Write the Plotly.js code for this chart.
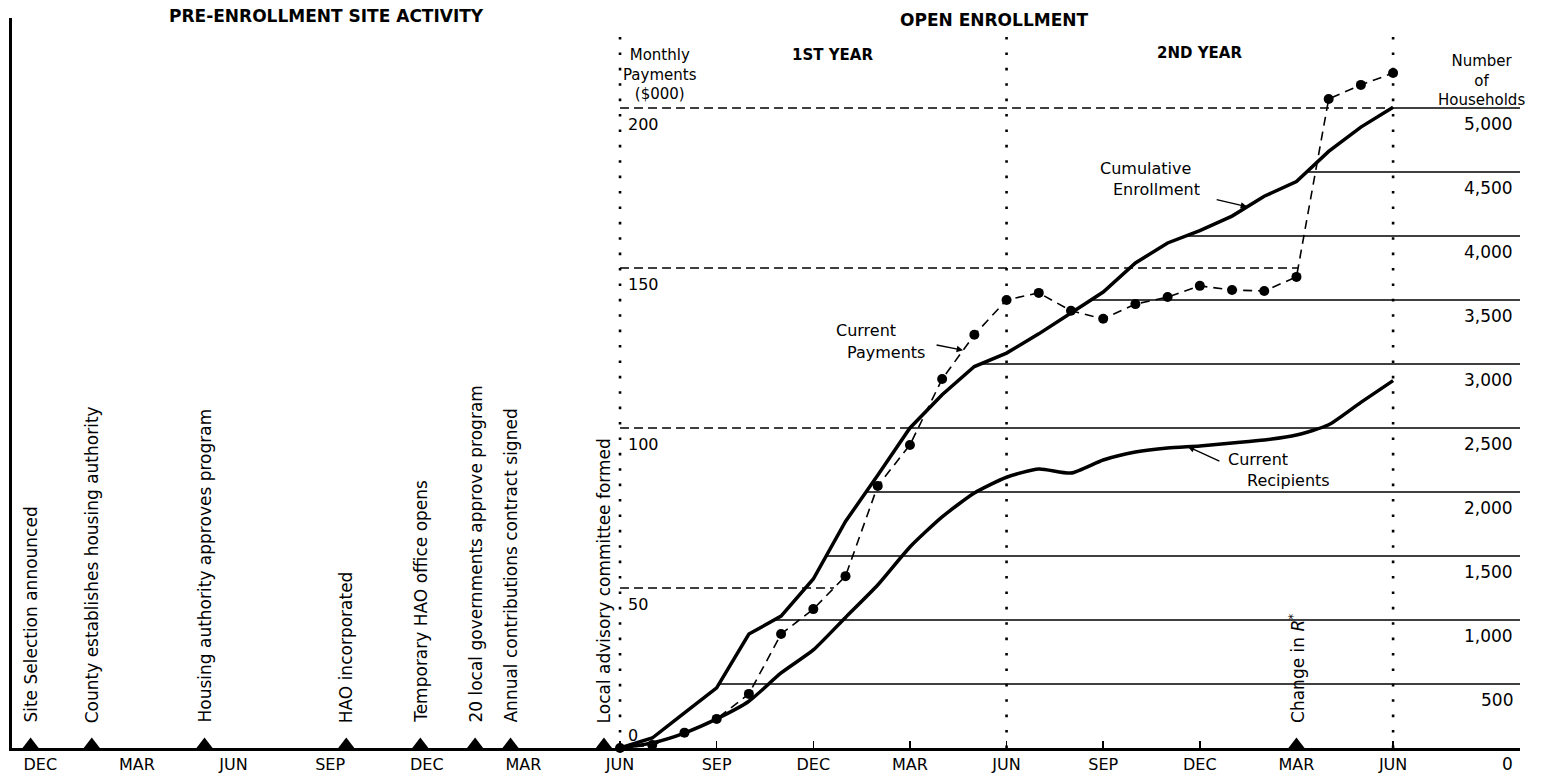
<!DOCTYPE html>
<html>
<head>
<meta charset="utf-8">
<script src="https://cdn.plot.ly/plotly-3.0.1.min.js"></script>
<style>
html,body{margin:0;padding:0;background:#fff;}
#chart{width:1549px;height:777px;}
</style>
</head>
<body>
<div id="chart"></div>
<script>
// ---- DATA (months counted from the first DEC shown, DEC = 0) ----
const monthTickVals = [0,3,6,9,12,15,18,21,24,27,30,33,36,39,42];
const monthTickText = ['DEC','MAR','JUN','SEP','DEC','MAR','JUN','SEP','DEC','MAR','JUN','SEP','DEC','MAR','JUN'];
const enrollmentTickVals = [18,21,24,27,30,33,36,39,42];
const yearBoundaries = [18,30,42];

const enrollmentMonths = [18,19,20,21,22,23,24,25,26,27,28,29,30,31,32,33,34,35,36,37,38,39,40,41,42];
// Number of households
const cumulativeEnrollment = [0,78,275,470,890,1030,1320,1770,2130,2500,2760,2980,3085,3235,3398,3562,3789,3945,4042,4155,4310,4425,4660,4850,5005];
const currentRecipients   = [0,40,117,227,365,586,766,1020,1273,1570,1805,1992,2115,2180,2148,2250,2312,2344,2360,2383,2406,2445,2525,2700,2870];
// Monthly payments ($000)
const currentPayments     = [0,0.9,4.8,9.1,16.9,35.6,43.4,53.7,81.9,94.7,115.3,129.1,140.0,142.2,136.6,134.1,138.7,140.9,144.4,143.1,142.8,147.2,202.8,207.2,210.9];

const eventMonths = [-0.3,1.6,5.1,9.5,11.8,13.5,14.6,17.5,39];
const eventLabels = [
  'Site Selection announced',
  'County establishes housing authority',
  'Housing authority approves program',
  'HAO incorporated',
  'Temporary HAO office opens',
  '20 local governments approve program',
  'Annual contributions contract signed',
  'Local advisory committee formed',
  'Change in <i>R</i><sup>*</sup>'
];

const paymentTicks = [0,50,100,150,200];
const householdTicks = [0,500,1000,1500,2000,2500,3000,3500,4000,4500,5000];
const householdTickText = ['0','500','1,000','1,500','2,000','2,500','3,000','3,500','4,000','4,500','5,000'];

// ---- scales ----
const X_RANGE = [-0.877, 45.94];
const PAY_RANGE = [0, 228.1];
const HH_PER_PAY = 25;           // 200 ($000) lines up with 5,000 households
const HH_RANGE = [0, PAY_RANGE[1]*HH_PER_PAY];
const FONT = 'DejaVu Sans, Verdana, sans-serif';
const W = 1549, H = 777;
const M = {l:12, r:29, t:18, b:29};
const plotH = H - M.t - M.b;
const BLACK = '#000';

function crossing(xs, ys, level){
  for(let i=0;i<ys.length-1;i++){
    if(ys[i] < level && ys[i+1] >= level){
      const t = (level-ys[i])/(ys[i+1]-ys[i]);
      return xs[i] + t*(xs[i+1]-xs[i]);
    }
  }
  return xs[xs.length-1];
}
function interpAt(xs, ys, x){
  for(let i=0;i<xs.length-1;i++){
    if(x>=xs[i] && x<=xs[i+1]){
      const t=(x-xs[i])/(xs[i+1]-xs[i]);
      return ys[i]+t*(ys[i+1]-ys[i]);
    }
  }
  return ys[ys.length-1];
}

const triSize = 14;
const triLift = (triSize/4) / (plotH / (PAY_RANGE[1]-PAY_RANGE[0]));

const traces = [
  {x: enrollmentMonths, y: cumulativeEnrollment, yaxis:'y2', type:'scatter', mode:'lines',
   line:{color:BLACK, width:3.5}, hoverinfo:'skip', cliponaxis:false},
  {x: enrollmentMonths, y: currentRecipients, yaxis:'y2', type:'scatter', mode:'lines',
   line:{color:BLACK, width:3.5, shape:'spline', smoothing:0.6}, hoverinfo:'skip', cliponaxis:false},
  {x: enrollmentMonths, y: currentPayments, yaxis:'y', type:'scatter', mode:'lines+markers',
   line:{color:BLACK, width:1.6, dash:'9px,6px'}, marker:{color:BLACK, size:10}, hoverinfo:'skip', cliponaxis:false},
  {x: eventMonths, y: eventMonths.map(()=>triLift), yaxis:'y', type:'scatter', mode:'markers',
   marker:{symbol:'triangle-up', size:triSize, color:BLACK}, hoverinfo:'skip', cliponaxis:false},
  {x:[null], y:[null], xaxis:'x2', yaxis:'y', type:'scatter', mode:'markers', hoverinfo:'skip'}
];

const shapes = [];
yearBoundaries.forEach(m=>{
  shapes.push({type:'line', xref:'x', yref:'paper', x0:m, x1:m, y0:0, y1:(plotH-12)/plotH,
    line:{color:BLACK, width:2.6, dash:'2.6px,12.8px'}, layer:'below'});
});
householdTicks.filter(h=>h>0).forEach(h=>{
  shapes.push({type:'line', xref:'x', yref:'y2', x0:crossing(enrollmentMonths,cumulativeEnrollment,h), x1:X_RANGE[1],
    y0:h, y1:h, line:{color:BLACK, width:1.4}, layer:'below'});
});
paymentTicks.filter(p=>p>0).forEach(p=>{
  const hh = p*HH_PER_PAY;
  const end = (hh % 500 === 0)
    ? crossing(enrollmentMonths, cumulativeEnrollment, hh)
    : crossing(enrollmentMonths, currentPayments, p);
  shapes.push({type:'line', xref:'x', yref:'y', x0:enrollmentMonths[0], x1:end, y0:p, y1:p,
    line:{color:BLACK, width:1.4, dash:'9px,5px'}, layer:'below'});
});

const annotations = [];
function txt(o){ return Object.assign({showarrow:false, xanchor:'center', yanchor:'middle',
  font:{family:FONT, size:16, color:BLACK}}, o); }
// headers
annotations.push(txt({text:'<b>PRE-ENROLLMENT SITE ACTIVITY</b>', xref:'x', yref:'paper', x:8.9, y:1.003, font:{family:FONT,size:17,color:BLACK}}));
annotations.push(txt({text:'<b>OPEN ENROLLMENT</b>', xref:'x', yref:'paper', x:29.6, y:0.997, font:{family:FONT,size:17,color:BLACK}}));
annotations.push(txt({text:'<b>1ST YEAR</b>', xref:'x', yref:'paper', x:24.6, y:0.949, font:{family:FONT,size:15,color:BLACK}}));
annotations.push(txt({text:'<b>2ND YEAR</b>', xref:'x', yref:'paper', x:36.0, y:0.952, font:{family:FONT,size:15,color:BLACK}}));
annotations.push(txt({text:'Monthly<br>Payments<br>($000)', xref:'x', yref:'paper', x:19.25, y:0.923, font:{family:FONT,size:15,color:BLACK}}));
annotations.push(txt({text:'Number<br>of<br>Households', xref:'x', yref:'paper', x:44.76, y:0.915, font:{family:FONT,size:15,color:BLACK}}));
// payment axis labels
paymentTicks.forEach(p=>{
  annotations.push(txt({text:String(p), xref:'x', yref:'y', x:yearBoundaries[0], y:p, xanchor:'left', xshift:6,
    yanchor:'middle', yshift: p===0 ? 13 : -17, font:{family:FONT,size:16,color:BLACK}}));
});
// household axis labels
householdTicks.forEach((h,i)=>{
  annotations.push(txt({text:householdTickText[i], xref:'paper', yref:'y2', x:1, y:h, xanchor:'right', xshift:-5,
    yanchor:'middle', yshift:-16, font:{family:FONT,size:17,color:BLACK}}));
});
// events
eventMonths.forEach((m,i)=>{
  annotations.push(txt({text:eventLabels[i], xref:'x', yref:'y', x:m, y:0, textangle:-90, xanchor:'center',
    yanchor:'bottom', yshift:23, font:{family:FONT,size:17,color:BLACK}}));
});
// curve labels
annotations.push(txt({text:'Cumulative', xref:'x', yref:'y', x:34.3, y:181.0}));
annotations.push(txt({text:'Enrollment', xref:'x', yref:'y', x:34.67, y:174.4}));
annotations.push(txt({text:'Current', xref:'x', yref:'y', x:25.64, y:130.5}));
annotations.push(txt({text:'Payments', xref:'x', yref:'y', x:26.26, y:123.6}));
annotations.push(txt({text:'Current', xref:'x', yref:'y', x:37.81, y:90.0}));
annotations.push(txt({text:'Recipients', xref:'x', yref:'y', x:38.74, y:83.7}));
// arrows
function arrow(xs, ys, m, yref, ax, ay){
  return {text:' ', xref:'x', yref:yref, x:m, y:interpAt(xs,ys,m), showarrow:true, ax:ax, ay:ay,
    arrowhead:2, arrowsize:1, arrowwidth:1.3, arrowcolor:BLACK, standoff:0};
}
annotations.push(arrow(enrollmentMonths, cumulativeEnrollment, 37.47, 'y2', -34, -8));
annotations.push(arrow(enrollmentMonths, currentPayments, 28.65, 'y', -30, -6));
annotations.push(arrow(enrollmentMonths, currentRecipients, 35.63, 'y2', 35, 16));

const layout = {
  width:W, height:H, margin:M, paper_bgcolor:'#fff', plot_bgcolor:'#fff', showlegend:false,
  font:{family:FONT, color:BLACK},
  xaxis:{range:X_RANGE, tickmode:'array', tickvals:monthTickVals, ticktext:monthTickText, ticks:'',
    showline:true, linewidth:3, linecolor:BLACK, showgrid:false, zeroline:false,
    tickfont:{family:FONT, size:16, color:BLACK}, fixedrange:true},
  xaxis2:{range:X_RANGE, overlaying:'x', anchor:'y', side:'bottom', tickmode:'array', tickvals:enrollmentTickVals,
    ticks:'inside', ticklen:7, tickwidth:1.5, tickcolor:BLACK, showticklabels:false, showline:false,
    showgrid:false, zeroline:false, fixedrange:true},
  yaxis:{range:PAY_RANGE, showline:true, linewidth:3, linecolor:BLACK, showgrid:false, zeroline:false,
    showticklabels:false, ticks:'', fixedrange:true},
  yaxis2:{range:HH_RANGE, overlaying:'y', side:'right', showline:false, showgrid:false, zeroline:false,
    showticklabels:false, ticks:'', fixedrange:true},
  shapes:shapes,
  annotations:annotations
};

Plotly.newPlot('chart', traces, layout, {displayModeBar:false, staticPlot:true});
</script>
</body>
</html>
